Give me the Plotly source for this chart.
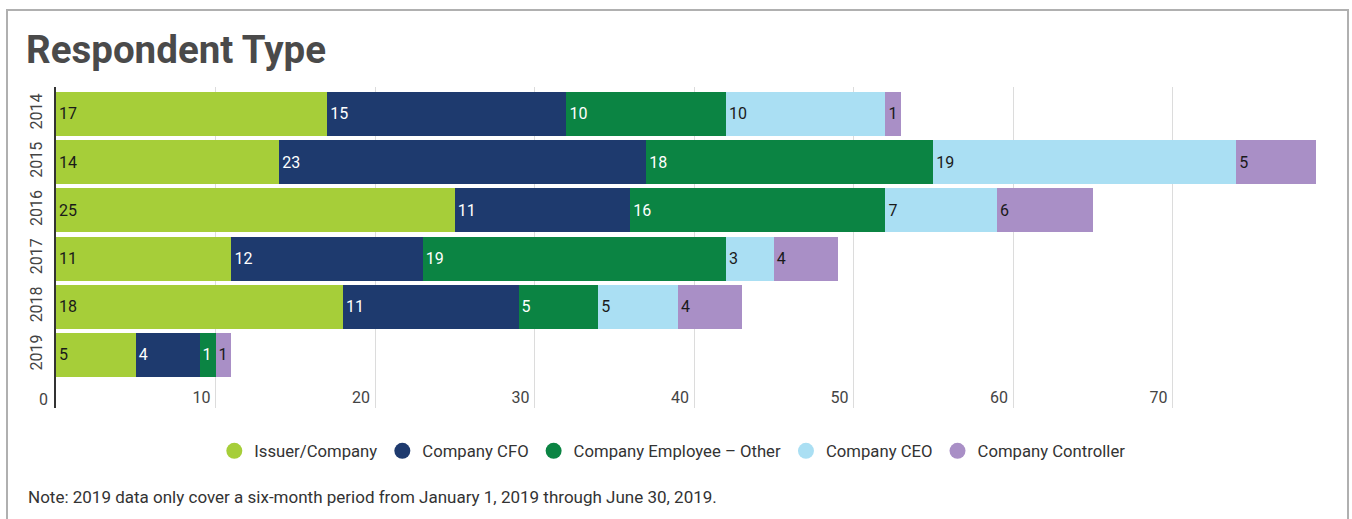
import plotly.graph_objects as go

years = ["2014", "2015", "2016", "2017", "2018", "2019"]
series_names = ["Issuer/Company", "Company CFO", "Company Employee – Other", "Company CEO", "Company Controller"]
issuer = [17, 14, 25, 11, 18, 5]
cfo = [15, 23, 11, 12, 11, 4]
employee = [10, 18, 16, 19, 5, 1]
ceo = [10, 19, 7, 3, 5, 0]
controller = [1, 5, 6, 4, 4, 1]
x_ticks = [0, 10, 20, 30, 40, 50, 60, 70]
note_text = "Note: 2019 data only cover a six-month period from January 1, 2019 through June 30, 2019."

colors = ["#a6ce39", "#1e3a6e", "#0b8443", "#aadff3", "#a98fc6"]
text_colors = ["#1a1a1a", "#ffffff", "#ffffff", "#1a1a1a", "#1a1a1a"]
all_values = [issuer, cfo, employee, ceo, controller]

FONT = "Roboto"
fig = go.Figure()
for name, vals, col, tcol in zip(series_names, all_values, colors, text_colors):
    fig.add_trace(go.Bar(
        y=years, x=vals, orientation="h", name=name,
        marker=dict(color=col, line=dict(width=0)),
        text=[str(v) if v else "" for v in vals],
        textposition="inside", insidetextanchor="start", textangle=0,
        constraintext="none",
        textfont=dict(family=FONT, size=16, color=tcol),
        showlegend=False, hoverinfo="x+name",
    ))
    fig.add_trace(go.Scatter(
        x=[None], y=[None], mode="markers", name=name,
        marker=dict(symbol="circle", size=20, color=col),
        showlegend=True,
    ))

fig.update_layout(
    width=1352, height=519,
    barmode="stack", bargap=0.09,
    paper_bgcolor="white", plot_bgcolor="white",
    margin=dict(l=56, r=20, t=87, b=111),
    font=dict(family=FONT, size=16, color="#444444"),
    title=dict(text="<b>Respondent Type</b>", x=26/1352, xref="container", xanchor="left",
               y=1-50/519, yref="container", yanchor="middle",
               font=dict(family=FONT, size=38.5, color="#4a4a4a")),
    xaxis=dict(range=[0, 80], tickvals=x_ticks, ticktext=[str(t) for t in x_ticks],
               showgrid=True, gridcolor="#dcdcdc", gridwidth=1, zeroline=False,
               ticklabelposition="inside left", ticks="", ticklabelshift=-5,
               ticklabelstandoff=-4,
               tickfont=dict(family=FONT, size=16, color="#444444"), showline=False,
               fixedrange=True),
    yaxis=dict(type="category", categoryorder="array", categoryarray=years,
               range=[6.1, -0.56], tickangle=-90, showgrid=False, zeroline=False,
               showline=True, linecolor="#333333", linewidth=2,
               ticks="", ticklabelstandoff=6,
               tickfont=dict(family=FONT, size=16, color="#444444")),
    legend=dict(orientation="h", x=0.483, xanchor="center", y=-0.134, yanchor="middle",
                font=dict(family=FONT, size=16.7, color="#333333"),
                itemsizing="trace", traceorder="normal"),
    showlegend=True,
)

# tick label at the axis origin (hidden by plotly for inside labels)
fig.add_annotation(text=str(x_ticks[0]), xref="x", yref="paper", x=x_ticks[0], y=0,
                   xanchor="right", yanchor="bottom", xshift=-6, yshift=-3, showarrow=False,
                   font=dict(family=FONT, size=16, color="#444444"))

fig.add_annotation(text=note_text, xref="paper", yref="paper", x=-30/1276, y=-0.277,
                   xanchor="left", yanchor="middle", showarrow=False,
                   font=dict(family=FONT, size=17, color="#333333"))

fig.add_shape(type="rect", xref="paper", yref="paper",
              x0=(7-56)/1276, x1=(1348-56)/1276, y0=-0.5, y1=(408-10)/321,
              line=dict(color="#b0b0b0", width=2), fillcolor="rgba(0,0,0,0)", layer="below")

fig.write_html("out.html")
